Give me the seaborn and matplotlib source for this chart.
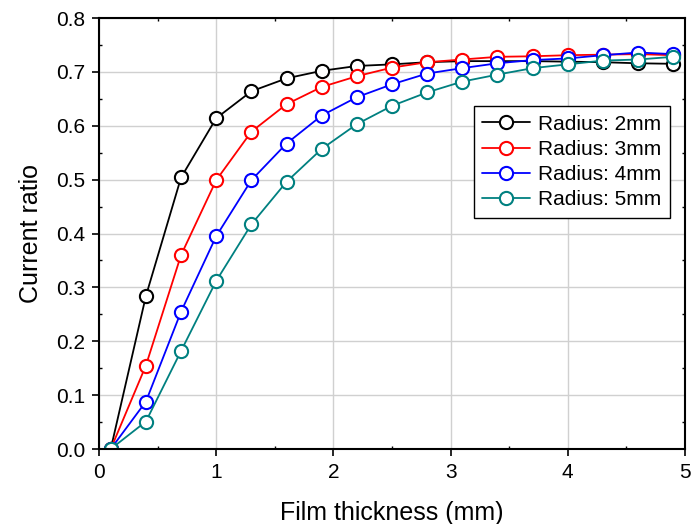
import matplotlib
matplotlib.use("Agg")
import matplotlib.pyplot as plt
import seaborn as sns
import pandas as pd
from matplotlib.ticker import MultipleLocator, FormatStrFormatter

thickness = [0.1, 0.4, 0.7, 1.0, 1.3, 1.6, 1.9, 2.2, 2.5, 2.8, 3.1, 3.4, 3.7, 4.0, 4.3, 4.6, 4.9]
r2 = [0.0, 0.284, 0.504, 0.614, 0.664, 0.688, 0.702, 0.711, 0.714, 0.718, 0.720, 0.720, 0.720, 0.719, 0.718, 0.716, 0.715]
r3 = [0.0, 0.155, 0.360, 0.499, 0.589, 0.640, 0.672, 0.692, 0.708, 0.718, 0.723, 0.728, 0.729, 0.731, 0.732, 0.733, 0.731]
r4 = [0.0, 0.088, 0.255, 0.395, 0.499, 0.567, 0.619, 0.653, 0.677, 0.697, 0.707, 0.716, 0.722, 0.725, 0.731, 0.736, 0.733]
r5 = [0.0, 0.051, 0.182, 0.312, 0.417, 0.496, 0.557, 0.603, 0.637, 0.662, 0.682, 0.695, 0.707, 0.714, 0.721, 0.723, 0.728]
labels = ["Radius: 2mm", "Radius: 3mm", "Radius: 4mm", "Radius: 5mm"]
colors = ["#000000", "#ff0000", "#0000ff", "#008080"]

sns.set_style("white")
plt.rcParams['font.family'] = ['Liberation Sans', 'DejaVu Sans']
plt.rcParams['text.color'] = 'black'
plt.rcParams['axes.labelcolor'] = 'black'
plt.rcParams['xtick.color'] = 'black'
plt.rcParams['ytick.color'] = 'black'

fig = plt.figure(figsize=(6.91, 5.24), dpi=100)
ax = fig.add_axes([0.1433, 0.1431, 0.848, 0.8225])

for lab, vals, c in zip(labels, [r2, r3, r4, r5], colors):
    df = pd.DataFrame({"x": thickness, "y": vals})
    sns.lineplot(data=df, x="x", y="y", ax=ax, color=c, marker="o",
                 markersize=9.5, markerfacecolor="white", markeredgecolor=c,
                 markeredgewidth=1.5, linewidth=1.3, label=lab)

ax.set_xlim(0, 5)
ax.set_ylim(0, 0.8)
ax.xaxis.set_major_locator(MultipleLocator(1))
ax.xaxis.set_minor_locator(MultipleLocator(0.5))
ax.yaxis.set_major_locator(MultipleLocator(0.1))
ax.yaxis.set_minor_locator(MultipleLocator(0.05))
ax.yaxis.set_major_formatter(FormatStrFormatter('%.1f'))
ax.grid(True, which='major', color='#d0d0d0', linewidth=1.0)
ax.set_axisbelow(True)
for s in ax.spines.values():
    s.set_visible(True)
    s.set_color('black')
    s.set_linewidth(1.5)
ax.tick_params(which='major', direction='out', length=5, width=1.2, pad=5,
               labelsize=15, bottom=True, left=True, top=False, right=False)
ax.tick_params(which='minor', direction='in', length=2.5, width=1.0,
               bottom=True, left=True, top=True, right=True)
ax.set_xlabel("Film thickness (mm)", fontsize=18, labelpad=14)
ax.set_ylabel("Current ratio", fontsize=18, labelpad=9)

leg = ax.legend(loc='upper right', bbox_to_anchor=(0.974, 0.795), fontsize=15,
                frameon=True, fancybox=False, edgecolor='black', framealpha=1,
                handlelength=2.3, borderpad=0.4, labelspacing=0.3, handletextpad=0.4,
                borderaxespad=0)
leg.get_frame().set_linewidth(1.0)

fig.savefig("out.png", dpi=100)
